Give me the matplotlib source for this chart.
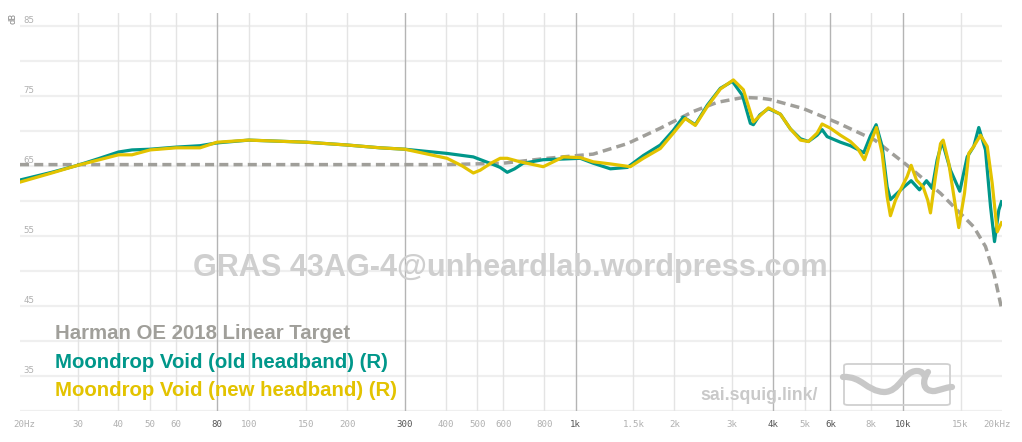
import matplotlib
matplotlib.use("Agg")
import matplotlib.pyplot as plt
import matplotlib.transforms as mtransforms
from matplotlib.path import Path
from matplotlib.patches import PathPatch, FancyBboxPatch

# ---------------- data ----------------
target_freq = [20, 400, 600, 818, 1130, 1437, 1812, 2287, 2707, 3251, 3664, 3932,
               4960, 6290, 8200, 10296, 13020, 16454, 17868, 19000, 20000]
target_db = [65.2, 65.2, 65.4, 66.1, 66.7, 68.2, 70.4, 72.8, 74.1, 74.8, 74.7, 74.5,
             73.2, 71.2, 68.7, 65.1, 61.1, 56.3, 53.5, 49.5, 44.7]

old_freq = [20, 25, 30, 35, 40, 44, 50, 60, 71, 80, 100, 150, 200, 252, 300, 404,
            486, 560, 587, 617, 650, 690, 795, 916, 1032, 1130, 1275, 1437, 1608,
            1812, 1986, 2130, 2318, 2523, 2765, 3009, 3229, 3415, 3488, 3650, 3877,
            4220, 4527, 4857, 5138, 5464, 5658, 5862, 6140, 6436, 6906, 7322, 7584,
            7953, 8276, 8635, 8944, 9152, 9594, 10056, 10590, 11228, 11796, 12276,
            12719, 13177, 13967, 14912, 15708, 16454, 17044, 17868, 18514, 19040,
            19622, 20000]
old_db = [63.0, 64.1, 65.1, 66.1, 67.0, 67.3, 67.4, 67.7, 67.9, 68.3, 68.7, 68.4,
          68.0, 67.6, 67.4, 66.8, 66.3, 65.2, 64.8, 64.1, 64.6, 65.4, 65.9, 66.0,
          66.1, 65.4, 64.6, 64.8, 66.5, 68.0, 70.1, 72.0, 70.9, 73.7, 76.1, 77.1,
          75.1, 71.1, 70.9, 72.3, 73.2, 72.4, 70.3, 68.9, 68.5, 69.4, 70.2, 69.2,
          68.8, 68.4, 67.9, 67.3, 66.9, 69.3, 70.9, 67.8, 62.0, 60.2, 61.1, 62.0,
          62.9, 61.6, 62.9, 61.8, 65.9, 68.5, 64.4, 61.4, 66.3, 67.8, 70.5, 67.3,
          59.2, 54.2, 58.7, 59.9]

new_freq = [20, 25, 30, 35, 40, 44, 50, 60, 71, 80, 100, 150, 200, 252, 300, 404,
            450, 486, 510, 550, 587, 617, 676, 795, 916, 1032, 1130, 1275, 1467,
            1608, 1812, 1986, 2160, 2318, 2523, 2765, 3030, 3251, 3488, 3877, 4220,
            4527, 4857, 5138, 5464, 5658, 6000, 6436, 6906, 7270, 7622, 7953, 8295,
            8635, 8944, 9152, 9480, 9822, 10296, 10590, 10994, 11524, 11904, 12132,
            12567, 13020, 13268, 13800, 14466, 14806, 15414, 15882, 16454, 17250,
            18088, 18736, 19408, 20000]
new_db = [62.7, 64.0, 65.1, 65.9, 66.6, 66.6, 67.3, 67.6, 67.6, 68.4, 68.7, 68.4,
          68.0, 67.6, 67.4, 66.1, 65.0, 64.0, 64.4, 65.4, 66.1, 66.1, 65.6, 64.9,
          66.3, 66.2, 65.6, 65.3, 64.9, 66.1, 67.5, 69.7, 71.8, 70.8, 73.5, 76.0,
          77.3, 75.9, 71.3, 73.3, 72.4, 70.3, 68.7, 68.5, 69.7, 71.0, 70.4, 69.4,
          68.5, 67.5, 65.9, 68.3, 70.5, 66.8, 60.6, 57.9, 60.1, 61.6, 63.5, 65.1,
          63.0, 62.0, 60.1, 58.3, 63.5, 68.2, 68.7, 65.4, 59.2, 56.2, 61.1, 66.8,
          67.8, 69.4, 67.8, 62.5, 55.6, 56.9]

x_ticks = [20, 30, 40, 50, 60, 80, 100, 150, 200, 300, 400, 500, 600, 800, 1000,
           1500, 2000, 3000, 4000, 5000, 6000, 8000, 10000, 15000, 20000]
x_labels = ["20Hz", "30", "40", "50", "60", "80", "100", "150", "200", "300", "400",
            "500", "600", "800", "1k", "1.5k", "2k", "3k", "4k", "5k", "6k", "8k",
            "10k", "15k", "20kHz"]
major_ticks = [80, 300, 1000, 4000, 6000, 10000]
y_labels = [85, 75, 65, 55, 45, 35]

legend_names = ["Harman OE 2018 Linear Target", "Moondrop Void (old headband) (R)",
                "Moondrop Void (new headband) (R)"]

# ---------------- style ----------------
C_TARGET = "#a09f9a"
C_OLD = "#00978a"
C_NEW = "#e3c300"
W, H = 1022, 442

fig = plt.figure(figsize=(W / 100, H / 100), dpi=100)
fig.patch.set_facecolor("white")
ax = fig.add_axes([20 / W, 31 / H, 981.5 / W, 398 / H])
ax.set_xscale("log")
ax.set_xlim(20, 20000)
ax.set_ylim(30, 86.86)
for s in ax.spines.values():
    s.set_visible(False)
ax.set_xticks([])
ax.set_yticks([])
ax.minorticks_off()

# horizontal grid
for v in range(30, 90, 5):
    ax.axhline(v, color="#efefef", lw=1.6, zorder=0)
# vertical grid
for f in x_ticks[1:-1]:
    if f in major_ticks:
        ax.axvline(f, color="#b4b4b4", lw=1.0, zorder=0.5)
    else:
        ax.axvline(f, color="#e4e4e4", lw=1.0, zorder=0.3)

mono = "DejaVu Sans Mono"
# x tick labels
for f, lab in zip(x_ticks, x_labels):
    dx = 0
    if lab == "20Hz":
        dx = 3.3
    elif lab == "20kHz":
        dx = -3.3
    tr = mtransforms.offset_copy(ax.get_xaxis_transform(), fig=fig, x=dx, y=-10, units="points")
    col = "#555555" if f in major_ticks else "#b0b0b0"
    ax.text(f, 0, lab, transform=tr, ha="center", va="center", fontsize=6.6,
            family=mono, color=col)

# y tick labels
for v in y_labels:
    tr = mtransforms.offset_copy(ax.transData, fig=fig, x=2.3, y=3.8, units="points")
    ax.text(20, v, str(v), transform=tr, ha="left", va="center", fontsize=6.6,
            family=mono, color="#b0b0b0")
fig.text(13 / W, 1 - 19 / H, "dB", rotation=90, ha="center", va="center",
         fontsize=6.6, family=mono, color="#888888")

# watermark
fig.text(510 / W, 1 - 268 / H, "GRAS 43AG-4@unheardlab.wordpress.com", ha="center",
         va="center", fontsize=22.1, family="Liberation Sans", weight="bold",
         color="#cfcfcf", zorder=1)

# curves
ax.plot(target_freq, target_db, color=C_TARGET, lw=2.5, dashes=(2.6, 1.5), zorder=2)
ax.plot(old_freq, old_db, color=C_OLD, lw=2.3, zorder=3, solid_joinstyle="round")
ax.plot(new_freq, new_db, color=C_NEW, lw=2.3, zorder=4, solid_joinstyle="round")

# legend text
for i, (name, col) in enumerate(zip(legend_names, [C_TARGET, C_OLD, C_NEW])):
    fig.text(55 / W, 1 - (333.5 + i * 28.5) / H, name, ha="left", va="center",
             fontsize=14.7, family="Liberation Sans", weight="bold", color=col)

# squig.link mark
fig.text(818 / W, 1 - 395 / H, "sai.squig.link/", ha="right", va="center",
         fontsize=12.8, family="Liberation Sans", weight="bold", color="#c9c9c9")
box = FancyBboxPatch((844 / W, 1 - 405 / H), 106 / W, 41 / H,
                     boxstyle="round,pad=0,rounding_size=0.004",
                     transform=fig.transFigure, fill=False, ec="#d0d0d0", lw=1.3)
fig.add_artist(box)


def fig_path(pts, codes):
    verts = [(px / W, 1 - py / H) for px, py in pts]
    return Path(verts, codes)


wave = fig_path([(843, 377), (862, 376), (866, 391), (884, 392), (900, 392),
                 (903, 371), (917, 371), (922, 371), (924, 374), (925, 377)],
                [Path.MOVETO, Path.CURVE4, Path.CURVE4, Path.CURVE4, Path.CURVE4,
                 Path.CURVE4, Path.CURVE4, Path.CURVE4, Path.CURVE4, Path.CURVE4])
hook = fig_path([(928, 372), (922, 380), (922, 392), (935, 391), (943, 389),
                 (948, 387), (952, 387)],
                [Path.MOVETO, Path.CURVE4, Path.CURVE4, Path.CURVE4, Path.CURVE4,
                 Path.CURVE4, Path.CURVE4])
for p in (wave, hook):
    fig.add_artist(PathPatch(p, transform=fig.transFigure, fill=False, ec="#c8c8c8",
                             lw=4.5, capstyle="round", joinstyle="round"))

fig.savefig("out.png", dpi=100, facecolor="white")
